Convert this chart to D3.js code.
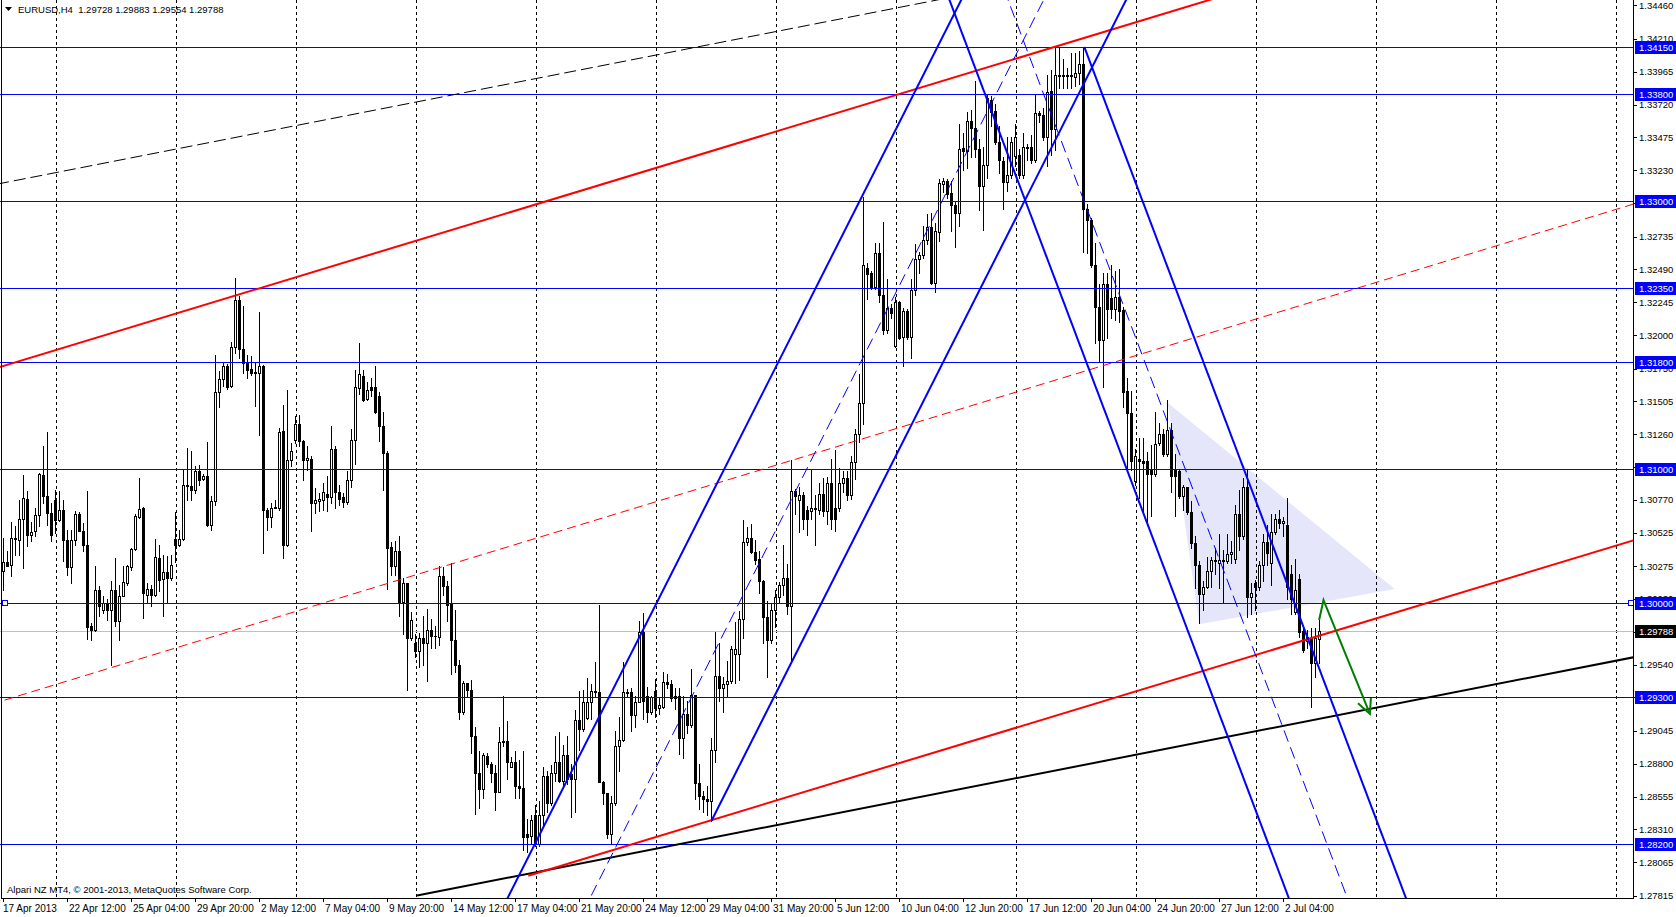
<!DOCTYPE html>
<html><head><meta charset="utf-8">
<script src="https://cdn.jsdelivr.net/npm/d3@7"></script>
<style>
body{margin:0;background:#fff;overflow:hidden}
svg{display:block}
text{font-family:"Liberation Sans",Arial,sans-serif}
</style></head>
<body><svg id="c" width="1676" height="917"></svg>
<script>
// ---------------- DATA ----------------
const opens=[1.30236,1.30306,1.30286,1.30485,1.30473,1.30627,1.30776,1.30505,1.30535,1.30654,1.30958,1.30796,1.30672,1.30771,1.30617,1.30697,1.30473,1.30269,1.30468,1.30667,1.30540,1.30435,1.29826,1.29801,1.30100,1.29945,1.30000,1.29950,1.30100,1.29863,1.30055,1.30149,1.30266,1.30403,1.30642,1.30706,1.30062,1.30104,1.30062,1.30336,1.30179,1.30231,1.30187,1.30478,1.30435,1.30478,1.30883,1.30871,1.30846,1.30983,1.30925,1.30945,1.30585,1.30764,1.31575,1.31674,1.31771,1.31617,1.31910,1.32264,1.31898,1.31791,1.31746,1.31716,1.31716,1.31771,1.30697,1.30642,1.30716,1.30709,1.31286,1.30435,1.31070,1.31219,1.31338,1.31206,1.31070,1.31077,1.30746,1.30759,1.30771,1.30813,1.30789,1.31149,1.30830,1.30792,1.30753,1.30915,1.31216,1.31601,1.31696,1.31524,1.31609,1.31609,1.31544,1.31318,1.31118,1.30420,1.30278,1.30389,1.30004,1.30150,1.29739,1.29701,1.29644,1.29739,1.29701,1.29798,1.29752,1.29747,1.30201,1.30124,1.29996,1.29721,1.29534,1.29187,1.29405,1.29354,1.29007,1.28730,1.28609,1.28858,1.28797,1.28730,1.28591,1.28961,1.28969,1.28776,1.28815,1.28635,1.28622,1.28275,1.28262,1.28417,1.28198,1.28417,1.28712,1.28506,1.28730,1.28815,1.28673,1.28866,1.28725,1.28686,1.29130,1.29059,1.29141,1.29264,1.29341,1.29333,1.28661,1.28584,1.28275,1.28506,1.28935,1.28976,1.29333,1.29333,1.29161,1.29264,1.29785,1.29303,1.29187,1.29341,1.29218,1.29226,1.29413,1.29394,1.29308,1.29308,1.28993,1.29170,1.29091,1.29316,1.28658,1.28559,1.28539,1.28520,1.28906,1.29457,1.29367,1.29394,1.29418,1.29623,1.29623,1.29879,1.30458,1.30482,1.30380,1.30332,1.30167,1.29899,1.29721,1.29946,1.30048,1.30135,1.30186,1.29978,1.30836,1.30766,1.30805,1.30695,1.30687,1.30706,1.30695,1.30813,1.30687,1.30892,1.30706,1.30706,1.30892,1.30931,1.30805,1.31049,1.31258,1.31494,1.32499,1.32460,1.32361,1.32609,1.32302,1.32034,1.32204,1.31916,1.32243,1.31987,1.32176,1.31987,1.32334,1.32570,1.32598,1.32708,1.32806,1.32389,1.32767,1.33130,1.33149,1.33059,1.32972,1.32913,1.33397,1.33374,1.33594,1.33543,1.33386,1.33110,1.33267,1.33752,1.33673,1.33437,1.33298,1.33142,1.33192,1.33335,1.33342,1.33192,1.33401,1.33401,1.33308,1.33658,1.33641,1.33475,1.33824,1.33534,1.33940,1.33934,1.33940,1.33934,1.33924,1.33957,1.34024,1.32942,1.32859,1.32526,1.32210,1.31961,1.32383,1.32277,1.32194,1.32284,1.32184,1.31585,1.31419,1.30913,1.31073,1.31063,1.31063,1.30996,1.30963,1.31196,1.31262,1.31112,1.31289,1.30996,1.30986,1.30796,1.30863,1.30680,1.30447,1.30281,1.30064,1.30121,1.30241,1.30321,1.30297,1.30321,1.30314,1.30364,1.30331,1.30663,1.30497,1.30863,1.30048,1.30148,1.30121,1.30281,1.30454,1.30297,1.30530,1.30630,1.30597,1.30580,1.30214,1.29931,1.30181,1.29788,1.29715,1.29742,1.29555,1.29728];
const highs=[1.30485,1.30386,1.30604,1.30572,1.30771,1.30958,1.30833,1.30604,1.30709,1.30970,1.31174,1.31276,1.30746,1.30846,1.30833,1.30771,1.30547,1.30547,1.30684,1.30677,1.30597,1.30833,1.29851,1.30279,1.30124,1.30050,1.30030,1.30162,1.30336,1.30137,1.30274,1.30286,1.30410,1.30664,1.30933,1.30716,1.30149,1.30137,1.30478,1.30435,1.30361,1.30353,1.30361,1.30679,1.30547,1.31000,1.31157,1.31132,1.31020,1.31032,1.30965,1.31204,1.30796,1.31853,1.31729,1.31791,1.31784,1.31945,1.32425,1.32289,1.32219,1.31853,1.31846,1.31796,1.32169,1.31779,1.30709,1.30746,1.30766,1.31306,1.31480,1.31592,1.31194,1.31393,1.31406,1.31219,1.31169,1.31095,1.30858,1.30821,1.30896,1.30945,1.31318,1.31169,1.30882,1.30818,1.30985,1.31298,1.31742,1.31942,1.31742,1.31652,1.31678,1.31768,1.31575,1.31426,1.31131,1.30458,1.30466,1.30502,1.30189,1.30150,1.29932,1.29765,1.29778,1.29906,1.29957,1.29880,1.29829,1.30278,1.30266,1.30163,1.30296,1.29945,1.29572,1.29418,1.29405,1.29423,1.29071,1.28892,1.28879,1.28884,1.28815,1.28789,1.29071,1.29303,1.29123,1.28853,1.28892,1.28827,1.28892,1.28391,1.28417,1.28494,1.28520,1.28776,1.28750,1.28789,1.29007,1.29038,1.28943,1.29007,1.28802,1.29200,1.29341,1.29354,1.29444,1.29392,1.29559,1.29983,1.28673,1.28584,1.28558,1.29046,1.29148,1.29559,1.29359,1.29367,1.29303,1.29868,1.29927,1.29372,1.29303,1.29431,1.29290,1.29482,1.29469,1.29426,1.29367,1.29367,1.29308,1.29268,1.29505,1.29316,1.28796,1.28599,1.28638,1.28993,1.29781,1.29702,1.29446,1.29564,1.29682,1.29859,1.29938,1.30616,1.30569,1.30588,1.30470,1.30391,1.30175,1.30017,1.29997,1.30096,1.30155,1.30431,1.30293,1.31069,1.30852,1.30864,1.30825,1.30726,1.31002,1.30805,1.30892,1.30931,1.30943,1.31073,1.31140,1.31010,1.30982,1.30982,1.31100,1.31297,1.31711,1.33031,1.32539,1.32479,1.32684,1.32688,1.32846,1.32420,1.32231,1.32282,1.32255,1.32204,1.32192,1.32420,1.32676,1.32617,1.32814,1.32901,1.32913,1.32834,1.33161,1.33169,1.33161,1.33149,1.33003,1.33571,1.33504,1.33661,1.33681,1.33898,1.33464,1.33405,1.33799,1.33780,1.33721,1.33563,1.33325,1.33475,1.33481,1.33574,1.33391,1.33508,1.33425,1.33491,1.33797,1.33674,1.33691,1.33940,1.33974,1.34140,1.34140,1.34057,1.33990,1.34107,1.34107,1.34123,1.34140,1.32976,1.32876,1.32683,1.32377,1.32460,1.32460,1.32526,1.32477,1.32493,1.32210,1.31678,1.31585,1.31146,1.31229,1.31229,1.31129,1.31179,1.31429,1.31345,1.31295,1.31512,1.31345,1.31112,1.30996,1.30880,1.30863,1.30763,1.30497,1.30314,1.30164,1.30347,1.30347,1.30414,1.30514,1.30397,1.30514,1.30464,1.30730,1.30846,1.30930,1.30996,1.30148,1.30174,1.30314,1.30514,1.30580,1.30663,1.30663,1.30697,1.30640,1.30780,1.30281,1.30331,1.30214,1.29832,1.29798,1.29815,1.29815,1.29883];
const lows=[1.30100,1.30274,1.30199,1.30361,1.30361,1.30261,1.30423,1.30460,1.30498,1.30572,1.30746,1.30585,1.30460,1.30522,1.30609,1.30311,1.30211,1.30149,1.30435,1.30535,1.30386,1.29731,1.29721,1.29789,1.29900,1.29925,1.29876,1.29540,1.29826,1.29726,1.30050,1.30137,1.30249,1.30398,1.30634,1.29888,1.30000,1.29980,1.30050,1.30087,1.29900,1.30000,1.30174,1.30303,1.30428,1.30473,1.30771,1.30771,1.30821,1.30883,1.30920,1.30572,1.30547,1.30734,1.31460,1.31617,1.31597,1.31610,1.31866,1.31828,1.31716,1.31679,1.31704,1.31468,1.31256,1.30373,1.30547,1.30567,1.30706,1.30697,1.30336,1.30428,1.31020,1.31194,1.31169,1.30920,1.30995,1.30535,1.30672,1.30684,1.30697,1.30684,1.30746,1.30709,1.30728,1.30715,1.30741,1.30864,1.31036,1.31562,1.31511,1.31516,1.31544,1.31416,1.31211,1.30843,1.30106,1.30209,1.30209,1.29906,1.29772,1.29354,1.29726,1.29598,1.29521,1.29534,1.29418,1.29662,1.29662,1.29688,1.30060,1.29868,1.29469,1.29482,1.29136,1.29174,1.29303,1.28879,1.28429,1.28468,1.28545,1.28776,1.28661,1.28455,1.28591,1.28930,1.28686,1.28776,1.28545,1.28545,1.28160,1.28140,1.28211,1.28185,1.28185,1.28340,1.28442,1.28494,1.28673,1.28661,1.28622,1.28648,1.28404,1.28442,1.28905,1.29046,1.29136,1.29136,1.29303,1.28661,1.28499,1.28250,1.28211,1.28494,1.28750,1.28969,1.29303,1.29046,1.29071,1.29264,1.29136,1.29110,1.29174,1.29148,1.29174,1.29213,1.29367,1.29268,1.29209,1.28874,1.28843,1.29032,1.29071,1.28539,1.28461,1.28441,1.28421,1.28375,1.28815,1.29268,1.29190,1.29308,1.29406,1.29406,1.29426,1.29741,1.30431,1.30372,1.30293,1.30076,1.29702,1.29446,1.29702,1.29820,1.29997,1.30056,1.29918,1.29564,1.30667,1.30529,1.30549,1.30510,1.30628,1.30431,1.30667,1.30647,1.30588,1.30549,1.30537,1.30687,1.30825,1.30766,1.30773,1.30923,1.31199,1.31337,1.32271,1.32342,1.32342,1.32243,1.32007,1.32018,1.32125,1.31908,1.31967,1.31770,1.31967,1.31829,1.32302,1.32460,1.32578,1.32676,1.32381,1.32322,1.32704,1.33070,1.33019,1.32775,1.32657,1.32814,1.33228,1.33248,1.33327,1.33327,1.32933,1.32783,1.33169,1.33563,1.33425,1.33208,1.32942,1.33075,1.33169,1.33258,1.33175,1.33175,1.33308,1.33282,1.33292,1.33591,1.33458,1.33258,1.33342,1.33381,1.33841,1.33841,1.33841,1.33841,1.33857,1.33874,1.32616,1.32610,1.32510,1.31944,1.31795,1.31612,1.31977,1.32127,1.32111,1.32094,1.31462,1.30996,1.30996,1.30880,1.30780,1.30680,1.30580,1.30647,1.30946,1.31179,1.31096,1.31096,1.30830,1.30647,1.30780,1.30697,1.30663,1.30414,1.30114,1.29848,1.29948,1.30114,1.30121,1.30214,1.30114,1.29998,1.30297,1.30297,1.30297,1.30397,1.30480,1.29898,1.29915,1.29948,1.30098,1.30164,1.30281,1.30131,1.30514,1.30563,1.30497,1.30031,1.29915,1.29915,1.29748,1.29632,1.29665,1.29223,1.29449,1.29554];
const closes=[1.30303,1.30274,1.30485,1.30478,1.30627,1.30784,1.30505,1.30530,1.30654,1.30965,1.30796,1.30672,1.30505,1.30617,1.30697,1.30468,1.30269,1.30473,1.30667,1.30535,1.30430,1.29818,1.29801,1.30100,1.29975,1.30000,1.29945,1.30100,1.29863,1.30055,1.30157,1.30279,1.30403,1.30647,1.30701,1.30075,1.30104,1.30062,1.30343,1.30174,1.30231,1.30187,1.30286,1.30435,1.30478,1.30883,1.30871,1.30846,1.30983,1.30915,1.30945,1.30585,1.30764,1.31575,1.31674,1.31771,1.31612,1.31910,1.32264,1.31898,1.31791,1.31741,1.31716,1.31721,1.31771,1.30697,1.30642,1.30709,1.30706,1.31276,1.30435,1.31070,1.31132,1.31338,1.31206,1.31070,1.31082,1.30746,1.30766,1.30779,1.30826,1.30789,1.31149,1.30826,1.30779,1.30753,1.30915,1.31216,1.31609,1.31711,1.31516,1.31588,1.31588,1.31426,1.31318,1.31121,1.30412,1.30278,1.30389,1.30004,1.30150,1.29739,1.29875,1.29644,1.29739,1.29701,1.29798,1.29752,1.29757,1.30201,1.30124,1.29983,1.29721,1.29534,1.29187,1.29405,1.29354,1.29007,1.28730,1.28609,1.28866,1.28797,1.28730,1.28591,1.28961,1.28969,1.28815,1.28815,1.28635,1.28622,1.28257,1.28257,1.28378,1.28198,1.28417,1.28712,1.28506,1.28730,1.28815,1.28673,1.28866,1.28686,1.28686,1.29130,1.29059,1.29264,1.29264,1.29341,1.29333,1.28661,1.28584,1.28275,1.28506,1.28935,1.28976,1.29333,1.29328,1.29161,1.29264,1.29785,1.29269,1.29187,1.29295,1.29218,1.29238,1.29413,1.29392,1.29288,1.29288,1.28993,1.29170,1.29091,1.29316,1.28658,1.28559,1.28539,1.28520,1.28906,1.29457,1.29367,1.29394,1.29418,1.29655,1.29655,1.29879,1.30458,1.30482,1.30380,1.30320,1.30167,1.29899,1.29721,1.29946,1.30048,1.30135,1.30186,1.29978,1.30836,1.30797,1.30805,1.30628,1.30628,1.30706,1.30700,1.30813,1.30687,1.30892,1.30628,1.30628,1.30892,1.30931,1.30805,1.31049,1.31258,1.31494,1.32519,1.32452,1.32361,1.32609,1.32302,1.32034,1.32204,1.32164,1.32243,1.31979,1.32176,1.31987,1.32334,1.32570,1.32598,1.32708,1.32806,1.32389,1.32775,1.33137,1.33149,1.33051,1.32972,1.32913,1.33386,1.33374,1.33594,1.33543,1.33386,1.33110,1.33267,1.33768,1.33661,1.33437,1.33307,1.33142,1.33192,1.33441,1.33475,1.33192,1.33401,1.33395,1.33308,1.33658,1.33641,1.33475,1.33814,1.33534,1.33940,1.33934,1.33940,1.33934,1.33940,1.33957,1.34024,1.32942,1.32859,1.32526,1.32210,1.31961,1.32383,1.32194,1.32194,1.32284,1.32177,1.31578,1.31419,1.31063,1.31096,1.31063,1.31046,1.30963,1.30963,1.31186,1.31262,1.31112,1.31289,1.30946,1.30946,1.30796,1.30863,1.30680,1.30447,1.30281,1.30064,1.30121,1.30241,1.30321,1.30314,1.30321,1.30314,1.30364,1.30381,1.30663,1.30497,1.30863,1.30048,1.30074,1.30121,1.30281,1.30454,1.30374,1.30530,1.30630,1.30597,1.30613,1.30121,1.30031,1.30098,1.29782,1.29649,1.29748,1.29555,1.29742,1.29788];

const timeLabels=["17 Apr 2013","22 Apr 12:00","25 Apr 04:00","29 Apr 20:00","2 May 12:00","7 May 04:00","9 May 20:00","14 May 12:00","17 May 04:00","21 May 20:00","24 May 12:00","29 May 04:00","31 May 20:00","5 Jun 12:00","10 Jun 04:00","12 Jun 20:00","17 Jun 12:00","20 Jun 04:00","24 Jun 20:00","27 Jun 12:00","2 Jul 04:00"];
const labelEvery=16;
const gridBars=[13,43,73,103,133,163,193,223,253,283,313,343,373,403];
const priceTicks=[1.34460,1.34210,1.33965,1.33720,1.33475,1.33230,1.32985,1.32735,1.32490,1.32245,1.32000,1.31750,1.31505,1.31260,1.31015,1.30770,1.30525,1.30275,1.30030,1.29785,1.29540,1.29295,1.29045,1.28800,1.28555,1.28310,1.28065,1.27815];
const levels=[1.34150,1.33800,1.33000,1.32350,1.31800,1.31000,1.30000,1.29300,1.28200];
const bidPrice=1.29788;
const title="EURUSD,H4  1.29728 1.29883 1.29554 1.29788";
const copyright="Alpari NZ MT4, \u00a9 2001-2013, MetaQuotes Software Corp.";

// trend lines: [bar, price] anchor pairs
const redUpper=[[0,1.31769],[300,1.34487]];
const redMiddle=[[0,1.29273],[300,1.32000]];
const redLower=[[131.2,1.27965],[300,1.29494]];
const blackSolid=[[103.4,1.27817],[249.125,1.28669]];
const blackDashed=[[164.125,1.34095],[249.125,1.34592]];
const blueUpLeft=[[128.3,1.27933],[177,1.30811]];
const blueUpMid=[[177,1.29593],[228,1.32607]];
const blueUpRight=[[177,1.28375],[228,1.31389]];
const blueDnLeft=[[280.8,1.31000],[320,1.27903]];
const blueDnMid=[[280.8,1.321565],[320,1.290595]];
const blueDnRight=[[270.2,1.34150],[320,1.30216]];
const triangle=[[291.1,1.31493],[298.95,1.29842],[347.8,1.30104]];
const greenArrow=[[328.9,1.29873],[330,1.30021],[341.6,1.29172]];

// ---------------- DRAW ----------------
const svg=d3.select("#c");
const plotR=1633, plotB=898;
const x=d3.scaleLinear().domain([-0.875,407.375]).range([0,plotR]);
const y=d3.scaleLinear().domain([1.27806,1.34500]).range([897,0]);

svg.append("rect").attr("width",1676).attr("height",917).attr("fill","#fff");
const defs=svg.append("defs");
defs.append("clipPath").attr("id","pc").append("rect").attr("x",0).attr("y",0).attr("width",plotR).attr("height",plotB);
const plot=svg.append("g").attr("clip-path","url(#pc)");

// triangle (background object)
plot.append("path").attr("d",d3.line().x(d=>x(d[0])).y(d=>y(d[1]))(triangle)+"Z")
  .attr("fill","#E6E6FA").attr("stroke","none");

// vertical grid
plot.selectAll(".vg").data(gridBars).join("line")
  .attr("x1",d=>Math.round(x(d))+0.5).attr("x2",d=>Math.round(x(d))+0.5)
  .attr("y1",0).attr("y2",plotB).attr("stroke","#000").attr("stroke-width",1)
  .attr("stroke-dasharray","3,3").attr("shape-rendering","crispEdges");

// bid line
plot.append("line").attr("x1",0).attr("x2",plotR)
  .attr("y1",Math.round(y(bidPrice))+0.5).attr("y2",Math.round(y(bidPrice))+0.5)
  .attr("stroke","#C0C0C0").attr("stroke-width",1).attr("shape-rendering","crispEdges");

// candles
const cg=plot.append("g").attr("shape-rendering","crispEdges");
const idx=d3.range(closes.length);
cg.selectAll(".w").data(idx).join("line")
  .attr("x1",i=>x(i)).attr("x2",i=>x(i))
  .attr("y1",i=>Math.round(y(highs[i]))).attr("y2",i=>Math.round(y(lows[i]))+1)
  .attr("stroke","#000").attr("stroke-width",1);
cg.selectAll(".b").data(idx).join("rect")
  .each(function(i){
    const o=opens[i],c=closes[i];
    const yt=Math.round(y(Math.max(o,c))), yb=Math.round(y(Math.min(o,c)));
    const r=d3.select(this);
    if(c>=o && yb-yt>=2){
      r.attr("x",x(i)-1).attr("y",yt+0.5).attr("width",2).attr("height",yb-yt)
       .attr("fill","#fff").attr("stroke","#000").attr("stroke-width",1);
    } else {
      r.attr("x",x(i)-1.5).attr("y",yt).attr("width",3).attr("height",Math.max(1,yb-yt+1))
       .attr("fill","#000");
    }
  });

// horizontal levels
plot.selectAll(".lv").data(levels).join("line")
  .attr("x1",0).attr("x2",plotR)
  .attr("y1",d=>Math.round(y(d))+0.5).attr("y2",d=>Math.round(y(d))+0.5)
  .attr("stroke","#0000FF").attr("stroke-width",1).attr("shape-rendering","crispEdges");

// trend line helper
function extLine(pts,ray){
  const [a,b]=pts; const s=(b[1]-a[1])/(b[0]-a[0]);
  const x0=ray?a[0]:-60, x1=460;
  return [[x0,a[1]+s*(x0-a[0])],[x1,a[1]+s*(x1-a[0])]];
}
const lg=d3.line().x(d=>x(d[0])).y(d=>y(d[1]));
function drawLine(pts,ray,color,w,dash){
  const p=plot.append("path").attr("d",lg(extLine(pts,ray))).attr("fill","none")
    .attr("stroke",color).attr("stroke-width",w);
  if(dash) p.attr("stroke-dasharray",dash);
}
drawLine(blackDashed,false,"#000",1,"12,5");
drawLine(blackSolid,true,"#000",2);
drawLine(redMiddle,false,"#FF0000",1,"9,5");
drawLine(redUpper,false,"#FF0000",2);
drawLine(redLower,true,"#FF0000",2);
drawLine(blueUpLeft,false,"#0000FF",2);
drawLine(blueUpMid,false,"#0000FF",1,"12,6");
drawLine(blueUpRight,true,"#0000FF",2);
drawLine(blueDnLeft,false,"#0000FF",2);
drawLine(blueDnMid,false,"#0000FF",1,"12,6");
drawLine(blueDnRight,true,"#0000FF",2);

// green arrow
plot.append("path").attr("d",lg(greenArrow)).attr("fill","none").attr("stroke","#008000").attr("stroke-width",2);
{
  const p1=greenArrow[1],p2=greenArrow[2];
  const X1=x(p1[0]),Y1=y(p1[1]),X2=x(p2[0]),Y2=y(p2[1]);
  const ang=Math.atan2(Y2-Y1,X2-X1), L=16, sp=0.45;
  const hp=[[X2-L*Math.cos(ang-sp),Y2-L*Math.sin(ang-sp)],[X2,Y2],[X2-L*Math.cos(ang+sp),Y2-L*Math.sin(ang+sp)]];
  plot.append("path").attr("d",d3.line()(hp)).attr("fill","none").attr("stroke","#008000").attr("stroke-width",2);
}

// selected-level markers on 1.30000
[2,plotR-5].forEach(px=>{
  svg.append("rect").attr("x",px+0.5).attr("y",Math.round(y(1.30))-2.5).attr("width",5).attr("height",5)
    .attr("fill","#fff").attr("stroke","#0000FF").attr("stroke-width",1);
});

// frame
svg.append("line").attr("x1",1.5).attr("x2",1.5).attr("y1",0).attr("y2",plotB).attr("stroke","#000").attr("shape-rendering","crispEdges");
svg.append("line").attr("x1",plotR+0.5).attr("x2",plotR+0.5).attr("y1",0).attr("y2",plotB+1).attr("stroke","#000").attr("shape-rendering","crispEdges");
svg.append("line").attr("x1",1).attr("x2",plotR+1).attr("y1",plotB+0.5).attr("y2",plotB+0.5).attr("stroke","#000").attr("shape-rendering","crispEdges");

// price axis
const boxes=levels.map(v=>({v,c:"#0000FF"})).concat([{v:bidPrice,c:"#000"}]);
const hidden=t=>boxes.some(b=>Math.abs(y(b.v)-y(t))<3);
const shownTicks=priceTicks.filter(t=>!hidden(t));
const ax=svg.append("g");
ax.selectAll(".tk").data(priceTicks).join("line")
  .attr("x1",plotR).attr("x2",plotR+4).attr("y1",d=>Math.round(y(d))+0.5).attr("y2",d=>Math.round(y(d))+0.5)
  .attr("stroke","#000").attr("shape-rendering","crispEdges");
ax.selectAll(".tl").data(shownTicks).join("text")
  .attr("x",plotR+6).attr("y",d=>y(d)+3.5).attr("font-size",9.5).attr("fill","#000")
  .text(d=>d.toFixed(5));
// level boxes
boxes.forEach(b=>{
  const yy=Math.round(y(b.v));
  ax.append("rect").attr("x",plotR+2).attr("y",yy-6).attr("width",1676-plotR-2).attr("height",13).attr("fill",b.c);
  ax.append("text").attr("x",plotR+6).attr("y",yy+4).attr("font-size",9.5).attr("fill","#fff").text(b.v.toFixed(5));
});

// time axis
const tg=svg.append("g");
timeLabels.forEach((t,k)=>{
  const bx=Math.round(x(k*labelEvery))-1;
  tg.append("line").attr("x1",bx+0.5).attr("x2",bx+0.5).attr("y1",plotB).attr("y2",plotB+4).attr("stroke","#000").attr("shape-rendering","crispEdges");
  tg.append("text").attr("x",k===0?3:bx+2).attr("y",912).attr("font-size",10).attr("fill","#000").text(t);
});

// title & copyright
svg.append("path").attr("d","M5,7 L12,7 L8.5,11 Z").attr("fill","#000");
svg.append("text").attr("x",18).attr("y",13).attr("font-size",9.5).attr("fill","#000").style("white-space","pre").text(title);
svg.append("text").attr("x",7).attr("y",893).attr("font-size",9.5).attr("fill","#000").text(copyright);
</script>
</body></html>
